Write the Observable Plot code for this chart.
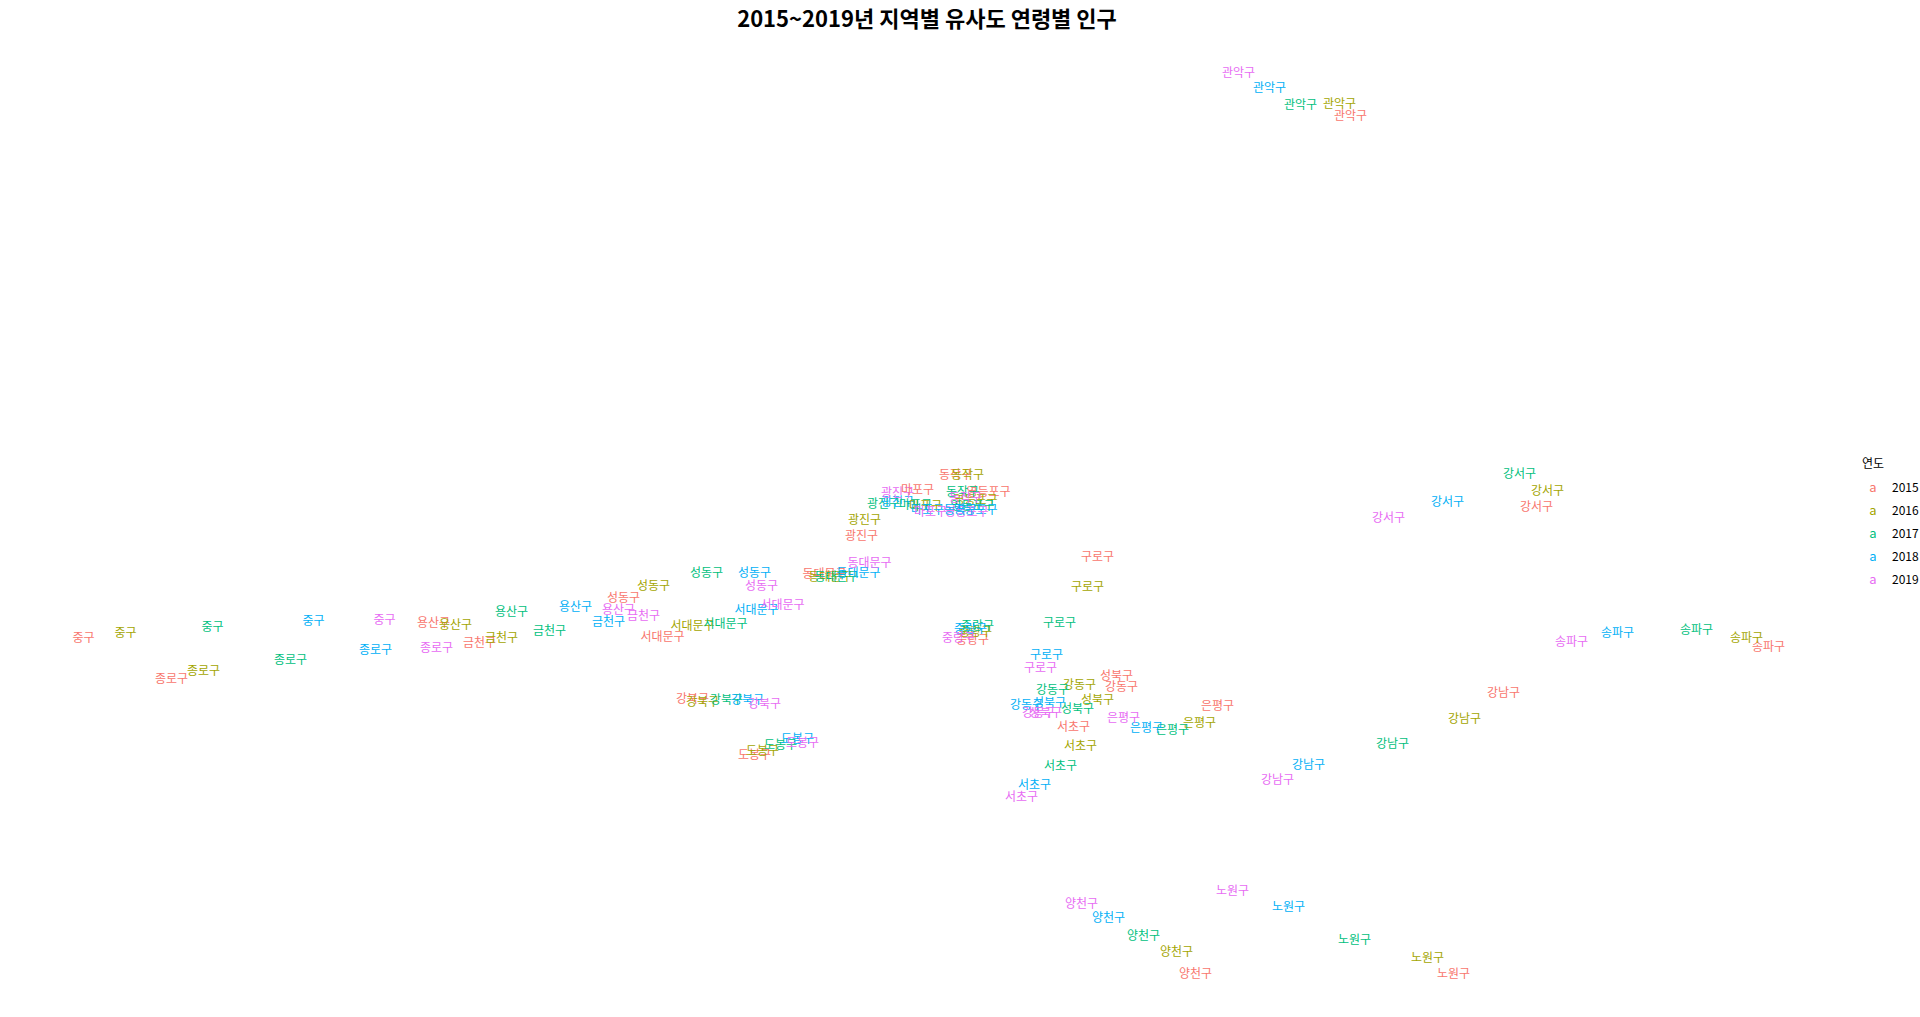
<!DOCTYPE html>
<html>
<head>
<meta charset="utf-8">
<script src="https://cdn.jsdelivr.net/npm/d3@7"></script>
<script src="https://cdn.jsdelivr.net/npm/@observablehq/plot@0.6"></script>
<style>
  html, body { margin: 0; padding: 0; background: #fff; }
  #wrap { position: relative; width: 1920px; height: 1017px; overflow: hidden; font-family: "Noto Sans CJK KR", "Noto Sans", sans-serif; }
  #title { position: absolute; left: 0; top: 1px; width: 1854px; text-align: center; font-size: 22px; font-weight: bold; color: #000; }
  #legend { position: absolute; left: 1862px; top: 453px; font-size: 12px; color: #000; }
  #legend .ttl { height: 22px; line-height: 20px; margin-bottom: 0px; }
  #legend .row { height: 23px; line-height: 23px; display: flex; align-items: center; }
  #legend .key { width: 22px; text-align: center; font-size: 13px; }
  #legend .lab { margin-left: 8px; }
</style>
</head>
<body>
<div id="wrap">
  <div id="chart"></div>
  <div id="title"></div>
  <div id="legend"></div>
</div>
<script>
const titleText = "2015~2019년 지역별 유사도 연령별 인구";
const legendTitle = "연도";
const years = ["2015", "2016", "2017", "2018", "2019"];
const yearColors = ["#F8766D", "#A3A500", "#00BF7D", "#00B0F6", "#E76BF3"];
const districts = ["종로구","중구","용산구","성동구","광진구","동대문구","중랑구","성북구","강북구","도봉구","노원구","은평구","서대문구","마포구","양천구","강서구","구로구","금천구","영등포구","동작구","관악구","서초구","강남구","송파구","강동구"];

// first dimension, one row per district, columns 2015..2019
const dim1 = [
  [-78.9, -75.7, -67.0, -58.5, -52.4],
  [-87.7, -83.5, -74.8, -64.7, -57.6],
  [-52.7, -50.5, -44.9, -38.5, -34.2],
  [-33.7, -30.7, -25.4, -20.6, -19.9],
  [-9.9, -9.6, -7.7, -6.3, -6.3],
  [-13.6, -13.0, -12.4, -10.2, -9.1],
  [1.2, 1.5, 1.7, 1.0, -0.2],
  [15.6, 13.7, 11.7, 8.9, 8.5],
  [-26.8, -25.8, -23.4, -21.3, -19.6],
  [-20.6, -19.8, -18.0, -16.3, -15.8],
  [49.3, 46.7, 39.4, 32.8, 27.2],
  [25.7, 23.9, 21.2, 18.6, 16.3],
  [-29.8, -26.8, -23.5, -20.4, -17.8],
  [-4.3, -3.5, -4.5, -3.3, -3.0],
  [23.5, 21.6, 18.3, 14.8, 12.1],
  [57.6, 58.7, 55.9, 48.7, 42.8],
  [13.7, 12.7, 9.9, 8.6, 8.0],
  [-48.1, -45.9, -41.1, -35.2, -31.7],
  [2.8, 1.5, 1.2, 1.5, 0.6],
  [-0.5, 0.7, 0.2, 0.0, 0.5],
  [39.0, 37.9, 34.0, 30.9, 27.8],
  [11.3, 12.0, 10.0, 7.4, 6.1],
  [54.3, 50.4, 43.2, 34.8, 31.7],
  [80.8, 78.6, 73.6, 65.7, 61.1],
  [16.1, 11.9, 9.2, 6.6, 7.8]
];
// second dimension, same layout
const dim2 = [
  [-15.9, -15.1, -14.0, -13.0, -12.8],
  [-11.8, -11.3, -10.7, -10.1, -10.0],
  [-10.3, -10.5, -9.2, -8.7, -9.0],
  [-7.8, -6.6, -5.3, -5.3, -6.6],
  [-1.6, 0.0, 1.6, 1.8, 2.7],
  [-5.4, -5.7, -5.7, -5.3, -4.3],
  [-12.0, -11.2, -10.6, -10.9, -11.8],
  [-15.6, -18.0, -18.9, -18.3, -19.3],
  [-17.9, -18.2, -18.0, -18.0, -18.4],
  [-23.5, -23.1, -22.5, -21.9, -22.3],
  [-45.4, -43.8, -42.0, -38.7, -37.1],
  [-18.6, -20.3, -21.0, -20.8, -19.8],
  [-11.7, -10.6, -10.4, -9.0, -8.5],
  [3.0, 1.4, 1.5, 1.0, 0.8],
  [-45.4, -43.2, -41.6, -39.8, -38.4],
  [1.3, 2.9, 4.6, 1.8, 0.2],
  [-3.7, -6.7, -10.3, -13.5, -14.8],
  [-12.3, -11.8, -11.1, -10.2, -9.6],
  [2.8, 2.0, 1.4, 1.0, 0.8],
  [4.5, 4.5, 2.8, 1.0, 2.2],
  [40.4, 41.6, 41.5, 43.2, 44.7],
  [-20.7, -22.6, -24.6, -26.5, -27.7],
  [-17.3, -19.9, -22.4, -24.5, -26.0],
  [-12.7, -11.8, -11.0, -11.3, -12.2],
  [-16.7, -16.5, -17.0, -18.5, -19.3]
];

const rows = [];
districts.forEach((d, i) => {
  years.forEach((yr, j) => {
    rows.push({district: d, year: yr, d1: dim1[i][j], d2: dim2[i][j]});
  });
});

const chart = Plot.plot({
  width: 1920,
  height: 1017,
  margin: 0,
  x: {domain: [-96, 96], range: [0, 1920], axis: null},
  y: {domain: [-49.7, 52], range: [1017, 0], axis: null},
  color: {domain: years, range: yearColors},
  style: {background: "#fff"},
  marks: [
    Plot.text(rows, {
      x: "d1", y: "d2", text: "district", fill: "year",
      fontSize: 12,
      fontFamily: "Noto Sans CJK KR"
    })
  ]
});
document.getElementById("chart").appendChild(chart);

document.getElementById("title").textContent = titleText;
const lg = document.getElementById("legend");
const t = document.createElement("div");
t.className = "ttl";
t.textContent = legendTitle;
lg.appendChild(t);
years.forEach((yr, j) => {
  const r = document.createElement("div");
  r.className = "row";
  const k = document.createElement("span");
  k.className = "key";
  k.style.color = yearColors[j];
  k.textContent = "a";
  const l = document.createElement("span");
  l.className = "lab";
  l.textContent = yr;
  r.appendChild(k);
  r.appendChild(l);
  lg.appendChild(r);
});
</script>
</body>
</html>
